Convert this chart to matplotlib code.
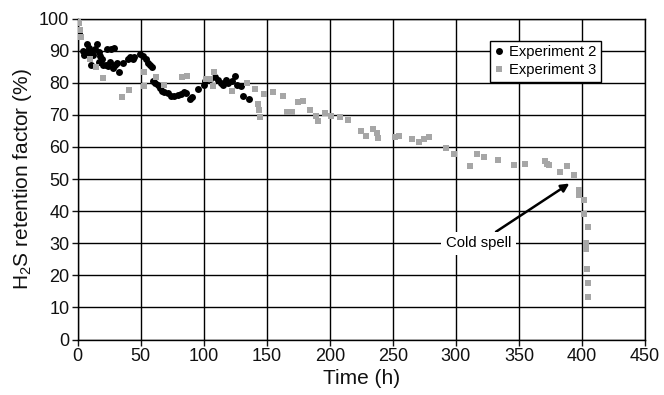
import matplotlib
matplotlib.use("Agg")
import matplotlib.pyplot as plt

plt.rcParams['font.family'] = ['Liberation Sans', 'DejaVu Sans']
plt.rcParams['mathtext.fontset'] = 'custom'
plt.rcParams['mathtext.rm'] = 'Liberation Sans'
plt.rcParams['mathtext.default'] = 'regular'

# Experiment 2 (black circles)
t2 = [1, 4.6, 5.2, 6.2, 7.7, 7.7, 9.3, 9.8, 10.3, 10.8, 12.4, 13.9, 15.5, 17, 17, 18,
      19.1, 20.1, 22.2, 23.2, 24.2, 25.8, 26.3, 27.8, 28.9, 29.4, 30.9, 33, 35.6,
      39.7, 41.2, 43.8, 44.8, 49.5, 51.5, 54.5, 56.1, 57.7, 59.3, 59.8, 61.4, 63.5,
      65, 66.7, 68.3, 72, 74.1, 76.7, 79.9, 82, 84.7, 85.7, 88.9, 91, 95.8, 100.5,
      101, 105.3, 109, 111.6, 113.8, 115.3, 118, 119.6, 122.2, 124.9, 126.5, 129.8,
      131.4, 136.2]
y2 = [95.5, 89.8, 88.75, 89.2, 92.1, 89.6, 90.8, 89.8, 85.4, 89.2, 88.75, 90.4, 92.1,
      89.6, 86.5, 88.3, 87.3, 85.4, 85.6, 90.4, 85.2, 86.5, 90.6, 84.6, 90.8, 85.6,
      86.25, 83.3, 86.25, 87.3, 87.9, 87.5, 88.1, 89, 88.2, 87.3, 86.25, 85.6, 84.8,
      80.4, 80, 79.2, 78.5, 77.5, 77.1, 76.9, 76, 76, 76.25, 76.5, 77.1, 76.7, 74.8,
      75.6, 77.9, 79.2, 80.4, 81, 81.9, 80.8, 80, 79.4, 80.8, 80, 80.4, 82.1, 79.4,
      79, 76, 75]

# Experiment 3 (grey squares)
t3 = [0, 1, 2, 3, 9.5, 14.5, 20, 35.5, 41, 52.5, 52.5, 62, 68.5, 83, 87, 101.5, 105,
      108, 107, 122, 134, 140.5, 143, 143.5, 144.5, 147.5, 155, 162.5, 166, 170, 175,
      179, 184, 189, 191, 196.5, 201, 208, 214.5, 225, 229, 234.5, 237.5, 238.5,
      251.5, 255, 265, 271, 274.5, 278.5, 292, 298.5, 311.5, 317, 322.5, 333, 346,
      355, 370.5, 372, 374, 382.5, 388.5, 394, 397.5, 398, 401.5, 402, 405, 403,
      403.5, 403.5, 404, 405, 405]
y3 = [100.5, 98.5, 96.5, 94.3, 87.5, 85, 81.5, 75.6, 77.7, 83.3, 79.1, 81.7, 79.3,
      81.7, 82.2, 81, 81.2, 83.3, 79, 77.5, 79.8, 78.1, 73.5, 71.5, 69.2, 76.5, 77.1,
      76, 70.9, 71, 74, 74.4, 71.5, 69.6, 68.2, 70.5, 69.6, 69.2, 68.4, 65, 63.4,
      65.5, 64.2, 62.8, 63, 63.4, 62.5, 61.5, 62.4, 63, 59.8, 57.7, 54, 57.8, 56.7,
      55.8, 54.3, 54.6, 55.5, 54.8, 54.3, 52.2, 54, 51.1, 46.6, 45, 43.4, 39.1, 35.1,
      30.2, 29, 28.1, 22, 17.7, 13.3]

xticks = list(range(0, 451, 50))
yticks = list(range(0, 101, 10))

fig = plt.figure(figsize=(6.64, 3.95), dpi=100)
ax = fig.add_axes([77.7/664, 1-339.5/395, (645-77.7)/664, (339.5-18.5)/395])

ax.plot(t2, y2, 'o', color='black', markersize=5.0, markeredgewidth=0,
        label='Experiment 2', zorder=3)
ax.plot(t3, y3, 's', color='#a6a6a6', markersize=4.7, markeredgewidth=0,
        label='Experiment 3', zorder=4)

ax.set_xlim(0, 450)
ax.set_ylim(0, 100)
ax.set_xticks(xticks)
ax.set_yticks(yticks)
ax.grid(True, color='black', linewidth=1.0)
ax.set_axisbelow(True)
for s in ax.spines.values():
    s.set_color('black')
    s.set_linewidth(1.0)
ax.tick_params(direction='out', length=4, width=1, labelsize=13, colors='#111111', pad=2)
ax.set_xlabel('Time (h)', fontsize=15, labelpad=3, color='#111111')
ax.set_ylabel('H$_2$S retention factor (%)', fontsize=15, labelpad=4, color='#111111')

leg = ax.legend(loc='upper left', bbox_to_anchor=(0.727, 0.931), fontsize=10.6,
                frameon=True, fancybox=False, edgecolor='black', framealpha=1,
                handlelength=0.6, handletextpad=0.4, borderpad=0.3, labelspacing=0.3,
                borderaxespad=0)
leg.get_frame().set_linewidth(1.0)
leg.set_zorder(5)

ax.annotate('Cold spell', xy=(390, 48.6), xytext=(318, 30), fontsize=10.7,
            ha='center', va='center', zorder=6,
            bbox=dict(boxstyle='square,pad=0.3', fc='white', ec='none'),
            arrowprops=dict(arrowstyle='-|>', color='black', lw=1.8,
                            mutation_scale=12, shrinkA=0, shrinkB=0))

fig.savefig('out.png', dpi=100)
